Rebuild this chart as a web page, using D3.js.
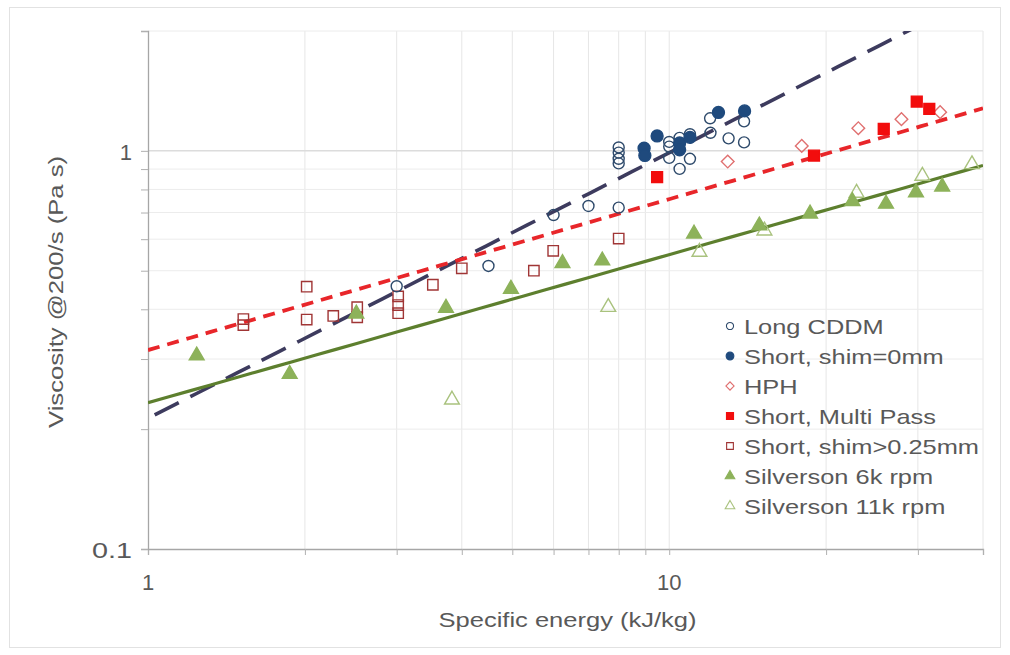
<!DOCTYPE html>
<html>
<head>
<meta charset="utf-8">
<script src="https://cdn.jsdelivr.net/npm/d3@7"></script>
<style>
  body { margin: 0; background: #fff; }
  text { font-family: "Liberation Sans", Arial, sans-serif; }
</style>
</head>
<body>
<div id="chart"></div>
<script>
/* ── data ───────────────────────────────────────────────── */
const longCDDM = [
  [3.0, 0.457], [4.5, 0.514], [6.0, 0.69], [7.0, 0.727], [8.0, 0.72],
  [8.0, 1.02], [8.0, 0.99], [8.0, 0.955], [8.0, 0.93],
  [10.0, 1.053], [10.0, 1.025], [10.0, 0.96], [10.47, 1.078], [10.47, 0.901],
  [10.96, 1.101], [10.96, 0.955], [11.98, 1.207], [12.0, 1.11],
  [13.0, 1.075], [13.92, 1.186], [13.92, 1.05]
];
const shortShim0 = [
  [8.95, 1.015], [8.98, 0.974], [9.48, 1.09], [10.47, 1.047], [10.47, 1.006],
  [10.96, 1.081], [12.43, 1.249], [13.95, 1.26]
];
const hph = [
  [12.95, 0.94], [17.96, 1.029], [23.06, 1.14], [27.9, 1.201], [33.1, 1.251]
];
const shortMulti = [
  [9.48, 0.859], [18.96, 0.973], [25.8, 1.136], [29.85, 1.33], [31.55, 1.275]
];
const shortShim025 = [
  [1.524, 0.378], [1.524, 0.365], [2.016, 0.456], [2.016, 0.377], [2.267, 0.385],
  [2.52, 0.405], [2.52, 0.382], [3.02, 0.431], [3.02, 0.41], [3.02, 0.391],
  [3.52, 0.461], [4.0, 0.507], [5.5, 0.5], [5.99, 0.561], [8.0, 0.602]
];
const silverson6k = [
  [1.24, 0.306], [1.87, 0.275], [2.51, 0.39], [3.73, 0.403], [4.97, 0.45],
  [6.24, 0.522], [7.44, 0.53], [11.16, 0.619], [14.89, 0.649], [18.63, 0.695],
  [22.47, 0.747], [26.06, 0.736], [29.75, 0.786], [33.4, 0.813]
];
const silverson11k = [
  [3.83, 0.237], [7.64, 0.405], [11.43, 0.557], [15.23, 0.63],
  [22.88, 0.784], [30.6, 0.865], [38.1, 0.925]
];

// power-law trendlines y = a * x^b
const trendNames = ["CDDM", "Short", "Silverson"];
const trendA = [0.213, 0.316, 0.233];
const trendB = [0.667, 0.379, 0.372];
const trendX0 = [1.03, 1.0, 1.0];

const legendNames = [
  "Long CDDM", "Short, shim=0mm", "HPH", "Short, Multi Pass",
  "Short, shim>0.25mm", "Silverson 6k rpm", "Silverson 11k rpm"
];
const xTickLabels = [1, 10];
const yTickLabels = [0.1, 1];

/* ── layout ─────────────────────────────────────────────── */
const W = 1010, H = 655;
const margin = { top: 31, right: 27, bottom: 106, left: 148 };
const w = W - margin.left - margin.right;
const h = H - margin.top - margin.bottom;
const txt = "#595959";

const svg = d3.select("#chart").append("svg")
  .attr("width", W).attr("height", H);

// outer frame of the chart
svg.append("rect")
  .attr("x", 9.5).attr("y", 7.5).attr("width", 991).attr("height", 640)
  .attr("fill", "none").attr("stroke", "#e2e2e2");

const g = svg.append("g").attr("transform", `translate(${margin.left},${margin.top})`);

const x = d3.scaleLog().domain([1, 40]).range([0, w]);
const y = d3.scaleLog().domain([0.1, 2]).range([h, 0]);

// minor/major tick positions
const xTicks = [];
for (let d = 1; d <= 40; d += (d < 10 ? 1 : 10)) xTicks.push(d);
const yTicks = [];
for (let i = 1; i <= 10; i++) yTicks.push(+(i / 10).toFixed(1));
yTicks.push(2);

/* ── grid ───────────────────────────────────────────────── */
g.append("g").selectAll("line").data(xTicks.slice(1)).join("line")
  .attr("x1", d => x(d)).attr("x2", d => x(d))
  .attr("y1", 0).attr("y2", h)
  .attr("stroke", "#e6e6e6").attr("stroke-width", 1);

g.append("g").selectAll("line").data(yTicks.slice(1)).join("line")
  .attr("x1", 0).attr("x2", w)
  .attr("y1", d => y(d)).attr("y2", d => y(d))
  .attr("stroke", d => d === 1 ? "#dcdcdc" : "#ececec").attr("stroke-width", d => d === 1 ? 1.5 : 1);

/* ── axes ───────────────────────────────────────────────── */
const xAxis = g.append("g").attr("transform", `translate(0,${h})`)
  .call(d3.axisBottom(x).tickValues(xTicks).tickSize(6).tickFormat(""));
const yAxis = g.append("g")
  .call(d3.axisLeft(y).tickValues(yTicks).tickSize(7).tickFormat(""));
[xAxis, yAxis].forEach(a => {
  a.select(".domain").attr("stroke", "#a6a6a6").attr("stroke-width", 1.3);
  a.selectAll(".tick line").attr("stroke", "#b0b0b0");
});

g.append("g").selectAll("text").data(xTickLabels).join("text")
  .attr("x", d => x(d)).attr("y", h + 41)
  .attr("text-anchor", "middle")
  .attr("fill", txt).style("font-size", "22px")
  .text(d => d);

g.append("g").selectAll("text").data(yTickLabels).join("text")
  .attr("x", -16).attr("y", d => y(d) + 9)
  .attr("text-anchor", "end")
  .attr("fill", txt).style("font-size", "22px")
  .attr("textLength", d => d < 1 ? 40 : null)
  .attr("lengthAdjust", "spacingAndGlyphs")
  .text(d => d);

g.append("text")
  .attr("x", w / 2 + 2).attr("y", h + 78)
  .attr("text-anchor", "middle")
  .attr("fill", txt).style("font-size", "21px")
  .attr("textLength", 258).attr("lengthAdjust", "spacingAndGlyphs")
  .text("Specific energy (kJ/kg)");

svg.append("text")
  .attr("transform", `translate(63,292) rotate(-90)`)
  .attr("text-anchor", "middle")
  .attr("fill", txt).style("font-size", "21px")
  .attr("textLength", 272).attr("lengthAdjust", "spacingAndGlyphs")
  .text("Viscosity @200/s (Pa s)");

/* ── trendlines ─────────────────────────────────────────── */
svg.append("clipPath").attr("id", "plotclip")
  .append("rect").attr("width", w).attr("height", h);
const lines = g.append("g").attr("clip-path", "url(#plotclip)");
const lineGen = d3.line().x(d => x(d[0])).y(d => y(d[1]));
const trendStyle = [
  { stroke: "#3d3b5e", width: 3.6, dash: "27,13" },
  { stroke: "#e8262a", width: 3.8, dash: "12,8" },
  { stroke: "#5d7f2e", width: 3.2, dash: null }
];
trendNames.forEach((n, i) => {
  const pts = d3.range(0, 41).map(k => {
    const xv = trendX0[i] * Math.pow(40 / trendX0[i], k / 40);
    return [xv, trendA[i] * Math.pow(xv, trendB[i])];
  });
  lines.append("path")
    .attr("d", lineGen(pts))
    .attr("fill", "none")
    .attr("stroke", trendStyle[i].stroke)
    .attr("stroke-width", trendStyle[i].width)
    .attr("stroke-dasharray", trendStyle[i].dash);
});

/* ── markers ────────────────────────────────────────────── */
const markers = [
  { data: longCDDM, shape: d3.symbolCircle, size: 95, fill: "#fff", stroke: "#2e4a6b", rot: 0 },
  { data: shortShim0, shape: d3.symbolCircle, size: 112, fill: "#1f4a7d", stroke: "#1f4a7d", rot: 0 },
  { data: hph, shape: d3.symbolSquare, size: 80, fill: "#fff", stroke: "#e07070", rot: 45 },
  { data: shortMulti, shape: d3.symbolSquare, size: 118, fill: "#f20d0d", stroke: "#f20d0d", rot: 0 },
  { data: shortShim025, shape: d3.symbolSquare, size: 108, fill: "#fff", stroke: "#a03535", rot: 0 },
  { data: silverson6k, shape: d3.symbolTriangle, size: 95, fill: "#8db25a", stroke: "#8db25a", rot: 0 },
  { data: silverson11k, shape: d3.symbolTriangle, size: 95, fill: "#fff", stroke: "#a9c27e", rot: 0 }
];
const drawOrder = [4, 0, 1, 2, 3, 6, 5];
drawOrder.forEach(i => {
  const m = markers[i];
  g.append("g").selectAll("path").data(m.data).join("path")
    .attr("transform", d => `translate(${x(d[0])},${y(d[1])}) rotate(${m.rot})`)
    .attr("d", d3.symbol().type(m.shape).size(m.size))
    .attr("fill", m.fill)
    .attr("fill-opacity", m.fill === "#fff" ? 0 : 1)
    .attr("stroke", m.stroke)
    .attr("stroke-width", 1.4);
});

/* ── legend ─────────────────────────────────────────────── */
const legend = svg.append("g").attr("transform", "translate(730,326)");
legendNames.forEach((name, i) => {
  const m = markers[i];
  const row = legend.append("g").attr("transform", `translate(0,${i * 30})`);
  row.append("path")
    .attr("transform", `rotate(${m.rot})`)
    .attr("d", d3.symbol().type(m.shape).size(m.size * 0.42))
    .attr("fill", m.fill).attr("stroke", m.stroke).attr("stroke-width", 1.1);
  row.append("text")
    .attr("transform", "translate(14,7.5) scale(1.21,1)")
    .attr("fill", txt).style("font-size", "21px")
    .text(name);
});
</script>
</body>
</html>
